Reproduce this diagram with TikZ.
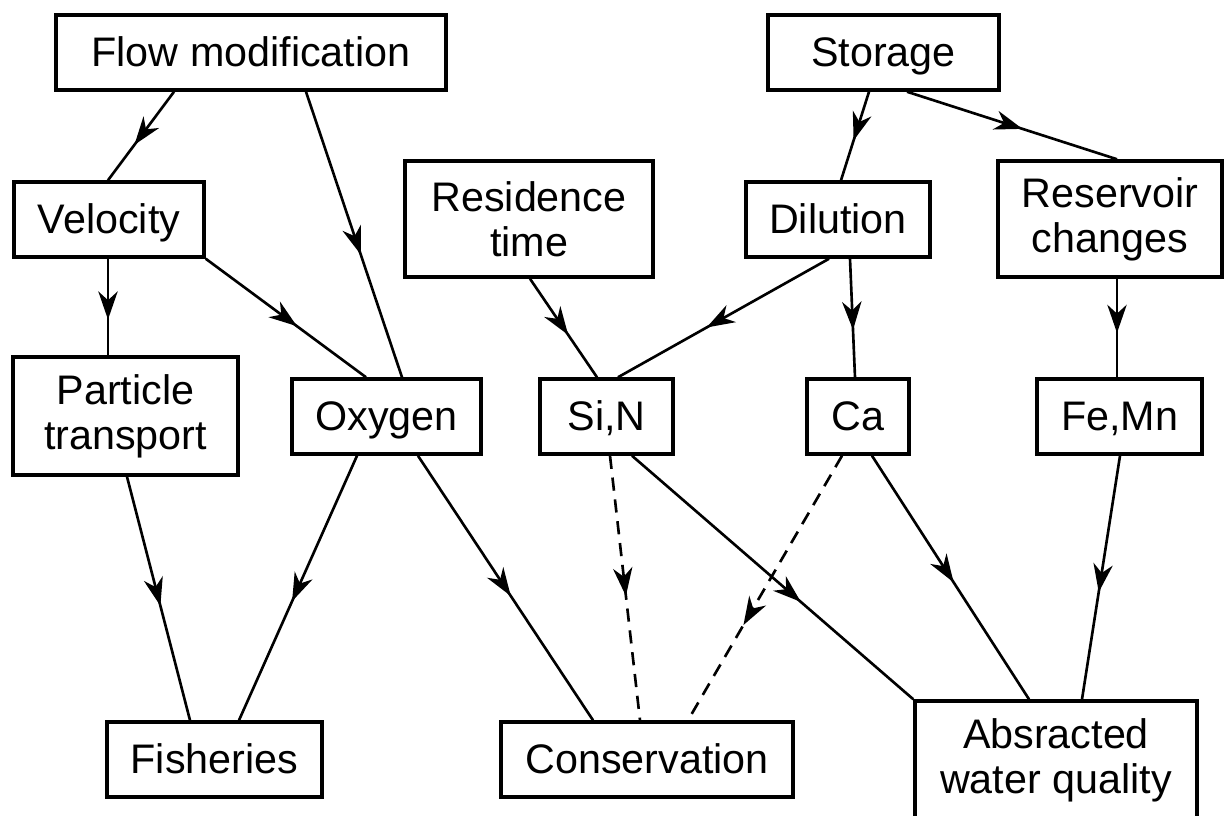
\documentclass[tikz,border=0pt]{standalone}
\usepackage{fontspec}
\setmainfont{Liberation Sans}
\usetikzlibrary{calc}
\usetikzlibrary{arrows.meta}
\usetikzlibrary{decorations.markings}

\begin{document}
\begin{tikzpicture}[x=0.02cm, y=-0.02cm,
  box/.style={draw, line width=2pt, inner sep=0pt, align=center, font=\fontsize{23.5}{25.5}\selectfont},
  one/.style={text height=19pt, text depth=3pt},
  link/.style={line width=1.5pt, postaction={decorate},
    decoration={markings, mark=at position #1 with {\arrow{Stealth[length=16pt,width=11pt,inset=5pt]}}}},
  link/.default=0.57,
  weak/.style={dash pattern=on 7.5pt off 5pt}]
\useasboundingbox (0,0) rectangle (1224,815);
% top row
\node[box, one, minimum width=7.8cm, minimum height=1.5cm] (flow) at (251,52.5) {Flow modification};
\node[box, one, minimum width=4.62cm, minimum height=1.5cm] (stor) at (883.5,52.5) {Storage};
% second row
\node[box, one, minimum width=3.8cm, minimum height=1.5cm] (velo) at (109,219.5) {Velocity};
\node[box, minimum width=4.96cm, minimum height=2.32cm] (resi) at (529,219) {Residence\\time};
\node[box, one, minimum width=3.68cm, minimum height=1.5cm] (dilu) at (838,219.5) {Dilution};
\node[box, minimum width=4.48cm, minimum height=2.32cm] (resv) at (1110,219) {Reservoir\\changes};
% third row
\node[box, minimum width=4.5cm, minimum height=2.36cm] (part) at (125.5,416) {Particle\\transport};
\node[box, one, minimum width=3.78cm, minimum height=1.5cm] (oxy) at (386.5,416.5) {Oxygen};
\node[box, one, minimum width=2.66cm, minimum height=1.5cm] (sin) at (606.5,416.5) {Si,N};
\node[box, one, minimum width=2.04cm, minimum height=1.5cm] (ca) at (858,416.5) {Ca};
\node[box, one, minimum width=3.3cm, minimum height=1.5cm] (femn) at (1119.5,416.5) {Fe,Mn};
% uses
\node[box, one, minimum width=4.3cm, minimum height=1.5cm] (fish) at (214.5,759.5) {Fisheries};
\node[box, one, minimum width=5.84cm, minimum height=1.5cm] (cons) at (647,759.5) {Conservation};
\node[box, minimum width=5.64cm, minimum height=2.36cm] (absr) at (1056,760) {Absracted\\water quality};

\draw[link=0.6] ($(flow.south)+(-77,0)$) -- ($(velo.north)+(-1,0)$);
\draw[link] ($(flow.south)+(55,0)$) -- ($(oxy.north)+(15.5,0)$);
\draw[link=0.63] ($(velo.south)+(-1,0)$) -- ($(part.north)+(-17.5,0)$);
\draw[link] (velo.south east) -- ($(oxy.north)+(-20.5,0)$);
\draw[link] ($(resi.south)+(1,0)$) -- ($(sin.north)+(-9.5,0)$);
\draw[link=0.58] ($(dilu.south)+(-9,0)$) -- ($(sin.north)+(11.5,0)$);
\draw[link=0.6] ($(dilu.south)+(12,0)$) -- ($(ca.north)+(-3,0)$);
\draw[link=0.55] ($(stor.south)+(-14.5,0)$) -- ($(dilu.north)+(3,0)$);
\draw[link=0.55] ($(stor.south)+(23.5,0)$) -- ($(resv.north)+(7,0)$);
\draw[link=0.55] ($(resv.south)+(7,0)$) -- ($(femn.north)+(-2.5,0)$);
\draw[link=0.53] ($(part.south)+(1.5,0)$) -- ($(fish.north)+(-24.5,0)$);
\draw[link=0.55] ($(oxy.south)+(-29.5,0)$) -- ($(fish.north)+(24.5,0)$);
\draw[link=0.53] ($(oxy.south)+(31.5,0)$) -- ($(cons.north)+(-54,0)$);
\draw[link=0.53, weak] ($(sin.south)+(3.5,0)$) -- ($(cons.north)+(-7,0)$);
\draw[link=0.6] ($(sin.south)+(25.5,0)$) -- (absr.north west);
\draw[link=0.64, weak] ($(ca.south)+(-16,0)$) -- ($(cons.north)+(41,0)$);
\draw[link=0.52] ($(ca.south)+(14,0)$) -- ($(absr.north)+(-27,0)$);
\draw[link=0.56] ($(femn.south)+(0.5,0)$) -- ($(absr.north)+(26,0)$);
\end{tikzpicture}
\end{document}
